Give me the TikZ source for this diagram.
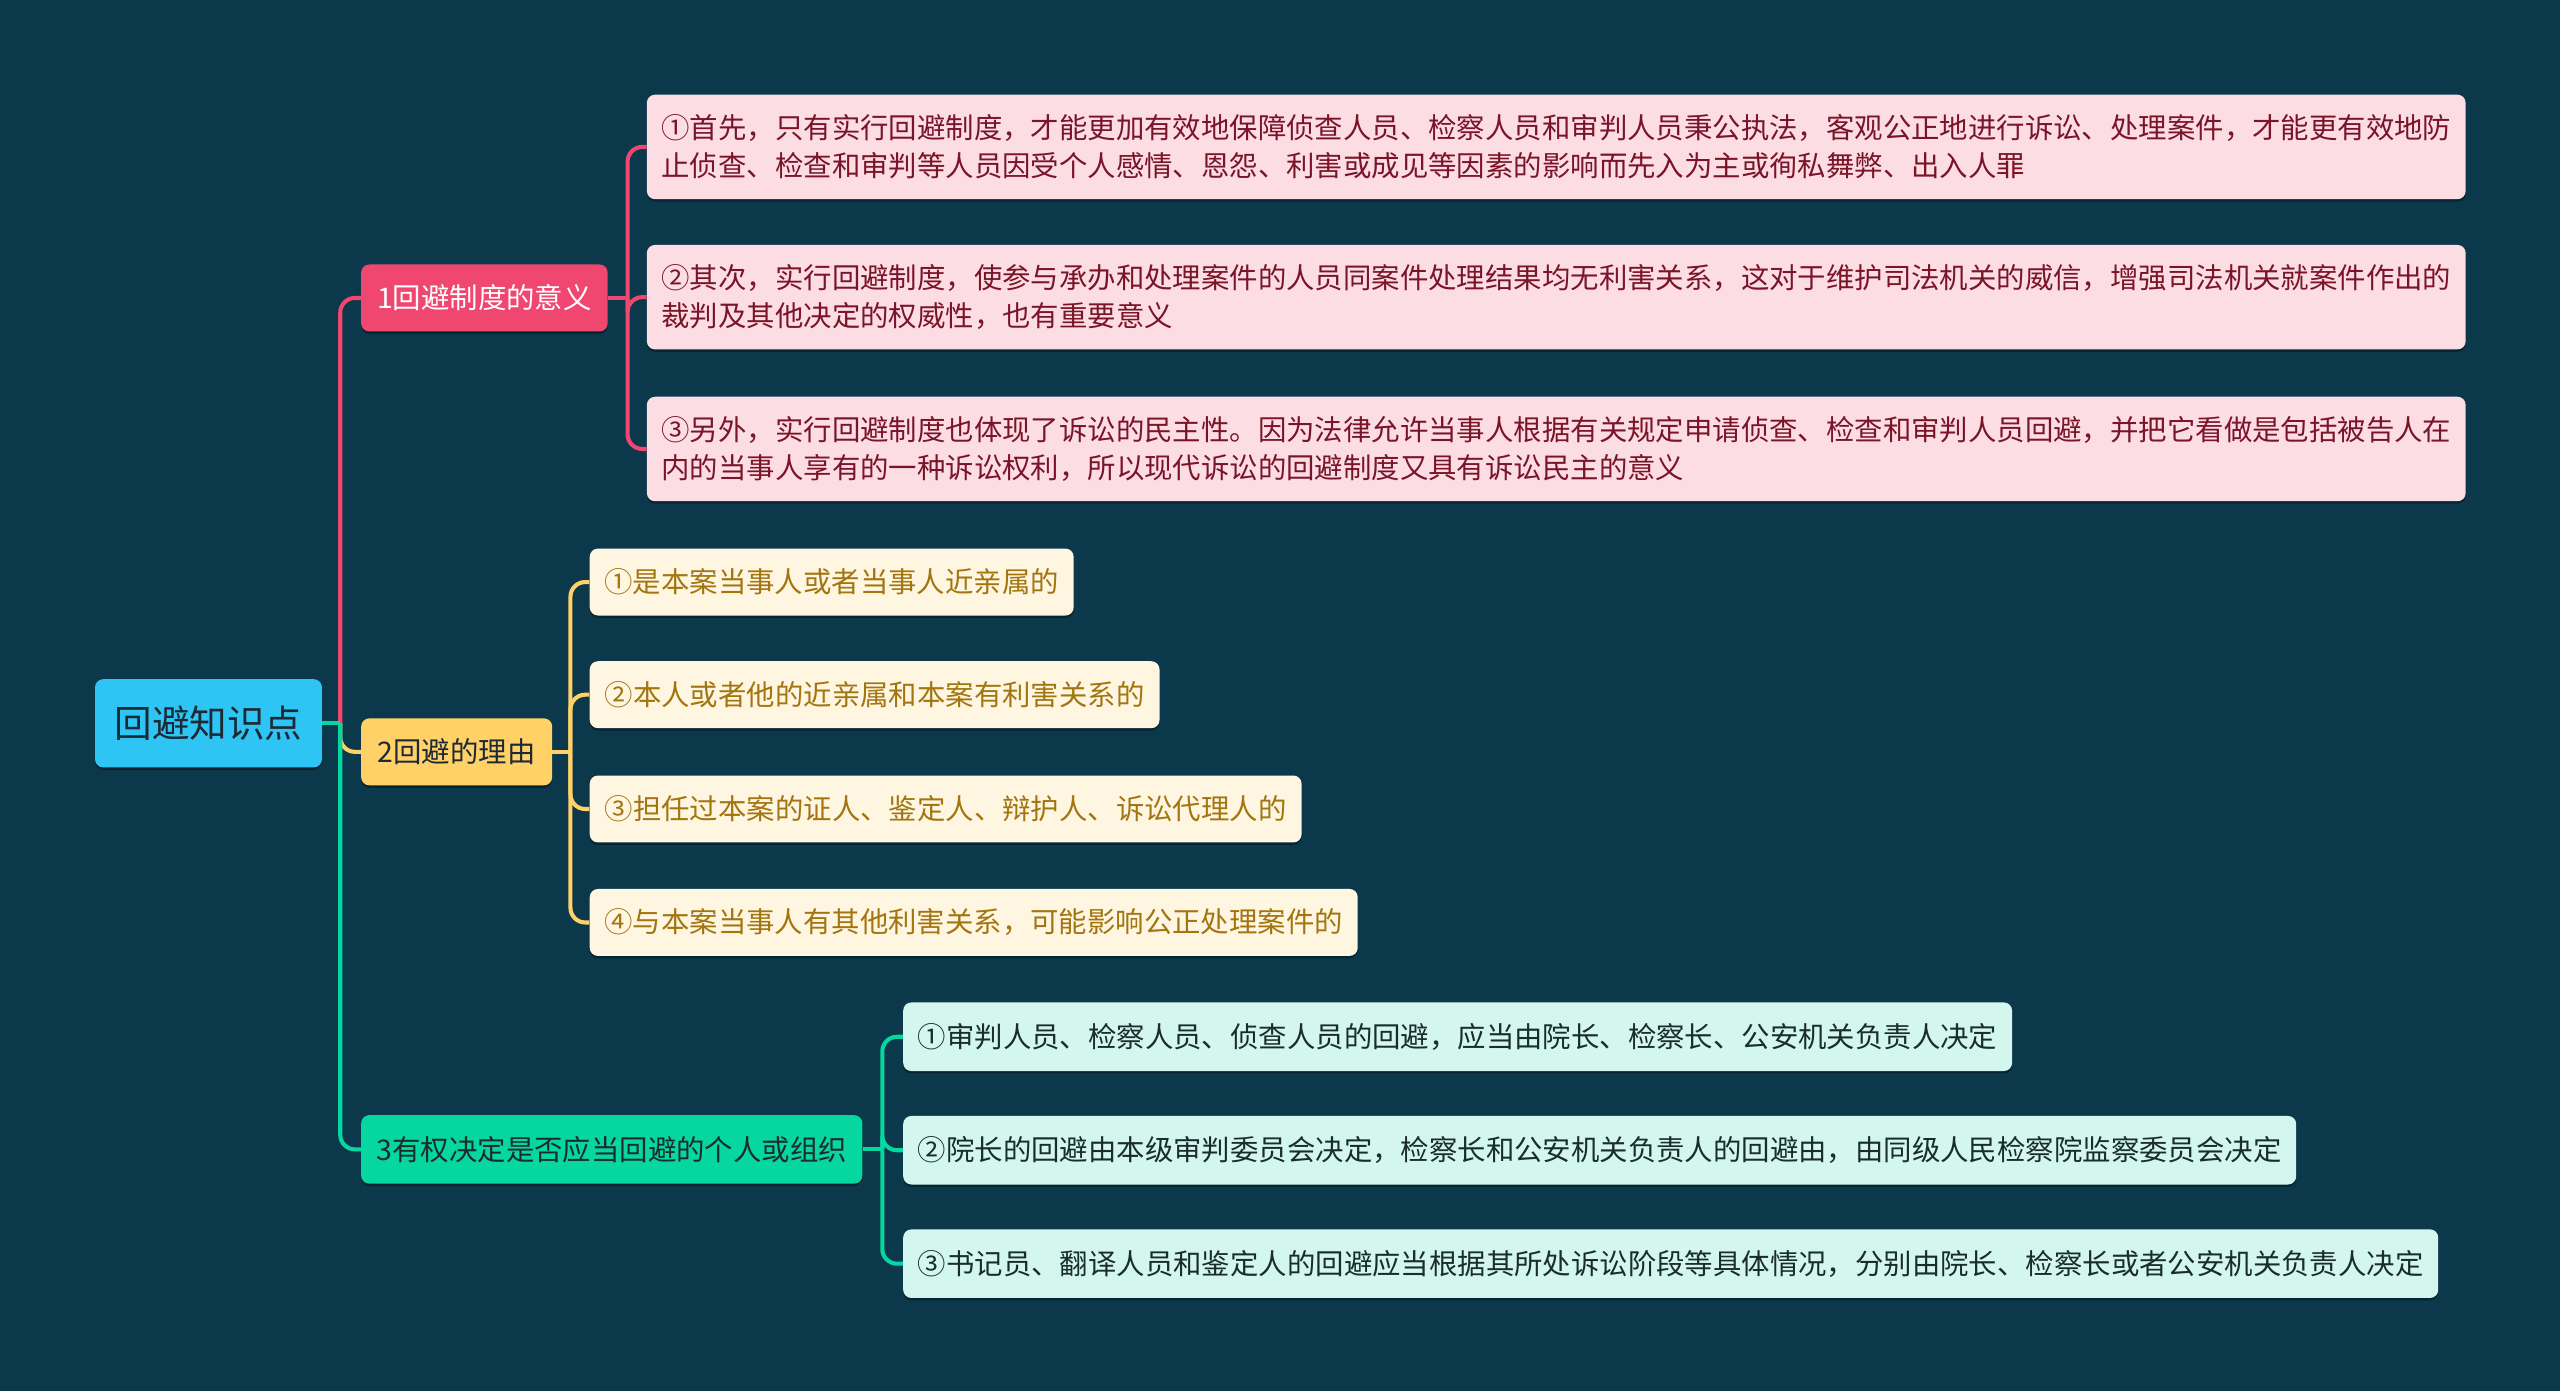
\documentclass[tikz,border=0pt]{standalone}
\usepackage{fontspec}
\setmainfont{Noto Sans CJK SC}
\usetikzlibrary{shadows}
\definecolor{bg}{HTML}{0B394B}
\definecolor{rootc}{HTML}{2EC4F4}
\definecolor{pinkc}{HTML}{EF476F}
\definecolor{yelc}{HTML}{FFD166}
\definecolor{grnc}{HTML}{06D6A0}
\definecolor{pinkl}{HTML}{FDDDE4}
\definecolor{yell}{HTML}{FFF6E2}
\definecolor{grnl}{HTML}{D3F7EE}
\definecolor{pinkt}{HTML}{7A1428}
\definecolor{yelt}{HTML}{A2750F}
\definecolor{grnt}{HTML}{1A2C2C}
\definecolor{darkt}{HTML}{1C2A36}
\tikzset{
  nbox/.style={rounded corners=5pt, anchor=west, inner xsep=9pt, inner ysep=0pt,
    align=left, font=\fontsize{17.4}{23}\selectfont,
    drop shadow={shadow xshift=0pt, shadow yshift=-1.5pt, fill=black, opacity=.35}},
  pinkkid/.style={nbox, fill=pinkl, text=pinkt, minimum height=64pt, text width=1096pt},
  yelkid/.style={nbox, fill=yell, text=yelt, minimum height=41pt},
  grnkid/.style={nbox, fill=grnl, text=grnt, minimum height=42pt},
  lone/.style={nbox, minimum height=41pt},
  conn/.style={line width=2.5pt},
  elbowline/.style={conn, rounded corners=9pt},
}
\begin{document}
\begin{tikzpicture}[x=1pt,y=-1pt]
\fill[bg] (0,0) rectangle (1568,852);
\useasboundingbox (0,0) rectangle (1568,852);

% root
\node[nbox, fill=rootc, text=darkt, minimum width=139pt, minimum height=54pt,
  inner xsep=0pt, align=center, font=\fontsize{23}{28}\selectfont] (root) at (58,443) {回避知识点};

% level 1
\node[lone, fill=pinkc, text=white, minimum width=151pt, inner xsep=0pt, align=center] (a) at (221,182.5) {1回避制度的意义};
\node[lone, fill=yelc, text=darkt, minimum width=117pt, inner xsep=0pt, align=center] (b) at (221,460.5) {2回避的理由};
\node[lone, fill=grnc, text=grnt, minimum width=307pt, minimum height=42pt, inner xsep=0pt, align=center] (c) at (221,704) {3有权决定是否应当回避的个人或组织};

% pink children
\node[pinkkid] (a1) at (396,90) {①首先，只有实行回避制度，才能更加有效地保障侦查人员、检察人员和审判人员秉公执法，客观公正地进行诉讼、处理案件，才能更有效地防\\止侦查、检查和审判等人员因受个人感情、恩怨、利害或成见等因素的影响而先入为主或徇私舞弊、出入人罪};
\node[pinkkid] (a2) at (396,182) {②其次，实行回避制度，使参与承办和处理案件的人员同案件处理结果均无利害关系，这对于维护司法机关的威信，增强司法机关就案件作出的\\裁判及其他决定的权威性，也有重要意义};
\node[pinkkid] (a3) at (396,275) {③另外，实行回避制度也体现了诉讼的民主性。因为法律允许当事人根据有关规定申请侦查、检查和审判人员回避，并把它看做是包括被告人在\\内的当事人享有的一种诉讼权利，所以现代诉讼的回避制度又具有诉讼民主的意义};

% yellow children
\node[yelkid, minimum width=296pt] (b1) at (361,356.5) {①是本案当事人或者当事人近亲属的};
\node[yelkid, minimum width=349pt] (b2) at (361,425.5) {②本人或者他的近亲属和本案有利害关系的};
\node[yelkid, minimum width=436pt] (b3) at (361,495.5) {③担任过本案的证人、鉴定人、辩护人、诉讼代理人的};
\node[yelkid, minimum width=470pt] (b4) at (361,565) {④与本案当事人有其他利害关系，可能影响公正处理案件的};

% green children
\node[grnkid, minimum width=679pt] (c1) at (553,635) {①审判人员、检察人员、侦查人员的回避，应当由院长、检察长、公安机关负责人决定};
\node[grnkid, minimum width=853pt] (c2) at (553,704.5) {②院长的回避由本级审判委员会决定，检察长和公安机关负责人的回避由，由同级人民检察院监察委员会决定};
\node[grnkid, minimum width=940pt] (c3) at (553,774) {③书记员、翻译人员和鉴定人的回避应当根据其所处诉讼阶段等具体情况，分别由院长、检察长或者公安机关负责人决定};

% junction points just right of each parent
\coordinate (jr) at ([xshift=11pt]root.east);
\coordinate (ja) at ([xshift=12pt]a.east);
\coordinate (jb) at ([xshift=11pt]b.east);
\coordinate (jc) at ([xshift=12pt]c.east);

% root branches
\draw[elbowline, pinkc] (jr) |- (a.west);
\draw[elbowline, yelc] (jr) |- (b.west);
\draw[elbowline, grnc] (jr) |- (c.west);
\draw[conn, grnc] (root.east) -- (jr);

% child branches
\foreach \k in {a1,a2,a3} \draw[elbowline, pinkc] (ja) |- (\k.west);
\draw[conn, pinkc] (a.east) -- (ja);
\foreach \k in {b1,b2,b3,b4} \draw[elbowline, yelc] (jb) |- (\k.west);
\draw[conn, yelc] (b.east) -- (jb);
\foreach \k in {c1,c2,c3} \draw[elbowline, grnc] (jc) |- (\k.west);
\draw[conn, grnc] (c.east) -- (jc);
\end{tikzpicture}
\end{document}
